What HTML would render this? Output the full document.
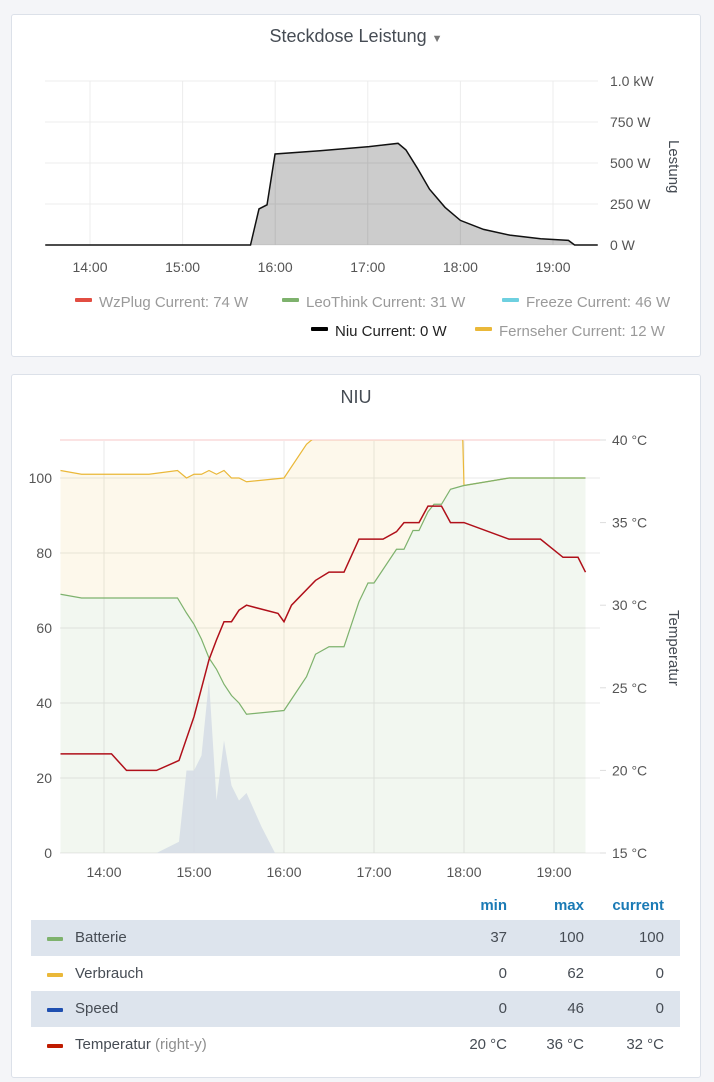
<!DOCTYPE html>
<html><head><meta charset="utf-8">
<style>
body{margin:0;width:714px;height:1082px;background:#f4f5f8;font-family:"Liberation Sans",sans-serif;overflow:hidden;position:relative}
.panel{position:absolute;background:#fff;border:1px solid #dce1e9;border-radius:3px;box-sizing:border-box}
.title{position:absolute;left:0;right:0;text-align:center;font-size:18px;color:#464c54}
svg text{font-family:"Liberation Sans",sans-serif}
.row{position:absolute;left:31px;width:649px;height:36px;font-size:15px;color:#464c54}
.row span{position:absolute;top:9px}
.num{text-align:right;width:60px}
.sw{position:absolute;left:16px;top:17px;width:16px;height:4px;border-radius:1px}
</style></head><body>
<div class="panel" style="left:11px;top:14px;width:690px;height:343px">
  <div class="title" style="top:11px">Steckdose Leistung <span style="font-size:11px;color:#777">▼</span></div>
</div>
<div class="panel" style="left:11px;top:374px;width:690px;height:704px">
  <div class="title" style="top:12px">NIU</div>
</div>
<svg id="top" width="714" height="1082" style="position:absolute;left:0;top:0"></svg>

<div style="position:absolute;top:897px;left:0;width:714px;font-size:15px;font-weight:bold;color:#1a7ab5">
  <span style="position:absolute;left:447px;width:60px;text-align:right">min</span>
  <span style="position:absolute;left:524px;width:60px;text-align:right">max</span>
  <span style="position:absolute;left:594px;width:70px;text-align:right">current</span>
</div>
<div class="row" style="top:920px;background:#dde4ed"><div class="sw" style="background:#7eb26d"></div><span style="left:44px">Batterie</span><span class="num" style="left:416px">37</span><span class="num" style="left:493px">100</span><span class="num" style="left:573px">100</span></div>
<div class="row" style="top:956px"><div class="sw" style="background:#eab839"></div><span style="left:44px">Verbrauch</span><span class="num" style="left:416px">0</span><span class="num" style="left:493px">62</span><span class="num" style="left:573px">0</span></div>
<div class="row" style="top:991px;background:#dde4ed"><div class="sw" style="background:#1f4fb0"></div><span style="left:44px">Speed</span><span class="num" style="left:416px">0</span><span class="num" style="left:493px">46</span><span class="num" style="left:573px">0</span></div>
<div class="row" style="top:1027px"><div class="sw" style="background:#bf1b00"></div><span style="left:44px">Temperatur <span style="position:static;color:#8e8e8e">(right-y)</span></span><span class="num" style="left:416px">20 °C</span><span class="num" style="left:493px">36 °C</span><span class="num" style="left:573px">32 °C</span></div>

<script>
// Top chart data (minutes after 13:00, watts)
const niuTimes=[31,164,169.5,174.7,179.9,209,240.8,259.6,264.7,272,280,290,300,315,332,352,370,374,389];
const niuWatts=[0,0,220,245,555,575,600,620,580,470,340,230,150,95,60,38,28,0,0];
const topTicks=[0,250,500,750,1000];
const topTickLabels=["0 W","250 W","500 W","750 W","1.0 kW"];
const hourTicks=[60,120,180,240,300,360];
const hourLabels=["14:00","15:00","16:00","17:00","18:00","19:00"];
// Bottom chart data
const stackTimes=[31,45,60,90,109,115,120,125,130,135,140,145,150,155,180,195,201,210,220,230,236,240,255,260,266,270,276,280,285,291,299,300,330,381];
const batterie=[69,68,68,68,68,64,61,57,52,49,45,42,40,37,38,47,53,55,55,67,72,72,81,81,86,86,91,93,93,97,97.9,98,100,100];
const verbrauch=[33,33,33,33,34,36,40,44,50,52,57,58,60,62,62,62,58,60,58,50,45,45,40,40,35,35,30,25,25,20,15,0,0,0];
const speedTimes=[95,110,115,120,125,130,135,140,145,150,155,165,174];
const speed=[0,3,22,22,26,46,14,30,18,14,16,7,0];
const tempTimes=[31,65,75,95,110,120,130,135,140,145,150,155,176,180,185,201,210,220,230,246,255,260,270,276,285,291,300,330,351,366,376,381];
const temperatur=[21,21,20,20,20.6,23.25,26.7,27.9,29,29,29.7,30,29.5,29,30,31.5,32,32,34,34,34.45,35,35,36,36,35,35,34,34,32.9,32.9,32];
const leftTicks=[0,20,40,60,80,100];
const rightTicks=[15,20,25,30,35,40];

const svg=document.getElementById('top');
const NS='http://www.w3.org/2000/svg';
function mk(tag,attrs,parent){const e=document.createElementNS(NS,tag);for(const k in attrs)e.setAttribute(k,attrs[k]);(parent||svg).appendChild(e);return e;}
function txt(x,y,s,attrs){const e=mk('text',Object.assign({x:x,y:y,'font-size':14,fill:'#555'},attrs||{}));e.textContent=s;return e;}

// ---- top chart
const tx=m=>90+(m-60)*92.6/60, ty=w=>245-w*0.164;
const g1=mk('g',{});


topTicks.forEach((v,i)=>{mk('line',{x1:45,x2:598,y1:ty(v),y2:ty(v),stroke:'#ececec'},g1);
 const t=txt(610,ty(v)+5,topTickLabels[i],{});});
hourTicks.forEach((m,i)=>{mk('line',{x1:tx(m),x2:tx(m),y1:81,y2:245,stroke:'#ececec'},g1);
 const t=txt(tx(m),272,hourLabels[i],{'text-anchor':'middle'});});
let d='';niuTimes.forEach((m,i)=>{d+=(i?'L':'M')+tx(m)+','+ty(niuWatts[i]);});
const na=mk('path',{d:d+'L'+tx(niuTimes[niuTimes.length-1])+','+ty(0)+'L'+tx(niuTimes[0])+','+ty(0)+'Z',fill:'#000','fill-opacity':0.2},g1);

const nl=mk('path',{d:d,fill:'none',stroke:'#111','stroke-width':1.5},g1);

const lt=txt(0,0,'Lestung',{'font-size':15,fill:'#464c54',transform:'translate(669,140) rotate(90)'});

const legTop=[['WzPlug','74 W','#e24d42',75,302,'#9a9a9a'],['LeoThink','31 W','#7eb26d',282,302,'#9a9a9a'],['Freeze','46 W','#6ed0e0',502,302,'#9a9a9a'],['Niu','0 W','#000',311,331,'#222'],['Fernseher','12 W','#eab839',475,331,'#9a9a9a']];
legTop.forEach(l=>{const g=mk('g',{});
 mk('rect',{x:l[3],y:l[4]-4,width:17,height:4,fill:l[2],rx:1},g);
 const t=mk('text',{x:l[3]+24,y:l[4]+5,'font-size':15,fill:l[5]},g);t.textContent=l[0]+'  Current: '+l[1];t.setAttribute('xml:space','preserve');});

// ---- bottom chart
const bx=m=>104+(m-60)*1.5, by=v=>853-v*3.75, br=c=>853-(c-15)*16.52;
const g2=mk('g',{});


const cp=mk('clipPath',{id:'cp'},g2);
mk('rect',{x:60,y:440,width:540,height:414},cp);
leftTicks.forEach(v=>{mk('line',{x1:60,x2:600,y1:by(v),y2:by(v),stroke:'#e8e8e8'},g2);
 const t=txt(52,by(v)+5,String(v),{'text-anchor':'end'});});
rightTicks.forEach(v=>{mk('line',{x1:600,x2:606,y1:br(v),y2:br(v),stroke:'#ddd'},g2);
 const t=txt(612,br(v)+5,v+' °C',{});});
hourTicks.forEach((m,i)=>{mk('line',{x1:bx(m),x2:bx(m),y1:440,y2:853,stroke:'#e8e8e8'},g2);
 const t=txt(bx(m),877,hourLabels[i],{'text-anchor':'middle'});});
mk('line',{x1:60,x2:600,y1:440,y2:440,stroke:'#fbe3e3','stroke-width':2},g2);
const pl=g=>g.map(p=>p[0]+','+p[1]).join('L');
const bPts=stackTimes.map((m,i)=>[bx(m),by(batterie[i])]);
const yPts=stackTimes.map((m,i)=>[bx(m),by(batterie[i]+verbrauch[i])]);
const cg=mk('g',{'clip-path':'url(#cp)'},g2);
const yArea=mk('path',{d:'M'+pl(yPts)+'L'+pl(bPts.slice().reverse())+'Z',fill:'#eab839','fill-opacity':0.1},cg);

const bArea=mk('path',{d:'M'+pl(bPts)+'L'+bx(stackTimes[stackTimes.length-1])+','+by(0)+'L'+bx(stackTimes[0])+','+by(0)+'Z',fill:'#7eb26d','fill-opacity':0.1},cg);

const sPts=speedTimes.map((m,i)=>[bx(m),by(speed[i])]);
const sArea=mk('path',{d:'M'+pl(sPts)+'Z',fill:'#d6dde6','fill-opacity':0.9},cg);

const yl=mk('path',{d:'M'+pl(yPts),fill:'none',stroke:'#eab839','stroke-width':1.2},cg);

const bl=mk('path',{d:'M'+pl(bPts),fill:'none',stroke:'#7eb26d','stroke-width':1.2},cg);

const tl=mk('path',{d:'M'+pl(tempTimes.map((m,i)=>[bx(m),br(temperatur[i])])),fill:'none',stroke:'#b0101a','stroke-width':1.5},cg);

const rt=txt(0,0,'Temperatur',{'font-size':15,fill:'#464c54',transform:'translate(669,610) rotate(90)'});

</script>
</body></html>
